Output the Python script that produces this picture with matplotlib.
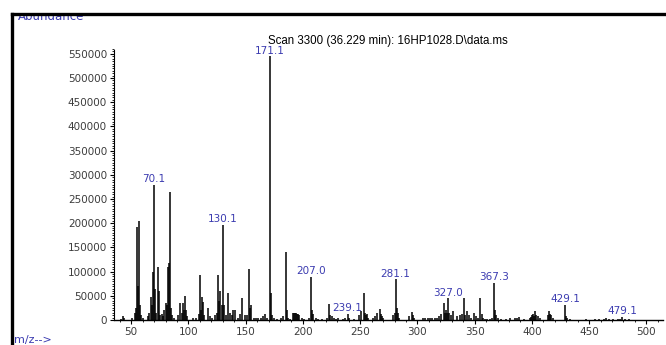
import matplotlib.pyplot as plt
from matplotlib.lines import Line2D
from matplotlib.ticker import MultipleLocator

# m/z and abundance
mz = [41, 43, 44, 51, 53, 54, 55, 56, 57, 58, 59, 60, 65, 66, 67, 68, 69, 70, 71, 72,
      73, 74, 75, 77, 78, 79, 80, 81, 82, 83, 84, 85, 86, 87, 91, 93, 94, 95, 96, 97,
      98, 99, 104, 107, 109, 110, 111, 112, 113, 114, 117, 119, 121, 123, 125, 126, 127, 128, 129, 130,
      131, 133, 135, 136, 138, 139, 141, 143, 145, 147, 149, 151, 153, 154, 155, 157, 159, 161, 163, 165,
      167, 169, 171, 172, 173, 175, 177, 181, 183, 185, 186, 187, 189, 191, 192, 193, 194, 195, 196, 197,
      199, 201, 205, 207, 208, 209, 211, 213, 217, 221, 223, 224, 225, 227, 229, 231, 235, 237, 239, 240,
      245, 249, 251, 253, 254, 255, 256, 257, 261, 263, 265, 267, 268, 269, 270, 279, 280, 281, 282, 283,
      284, 293, 295, 296, 297, 305, 307, 309, 311, 313, 315, 317, 319, 321, 323, 324, 325, 326, 327, 328,
      329, 331, 335, 337, 339, 341, 342, 343, 345, 347, 349, 351, 353, 355, 356, 357, 359, 361, 363, 365,
      367, 368, 369, 370, 373, 377, 381, 385, 387, 389, 393, 398, 399, 400, 401, 402, 403, 404, 405, 407,
      414, 415, 416, 417, 418, 429, 430, 431, 433, 447, 455, 459, 463, 465, 467, 471, 475, 477, 479, 481,
      485]
abundance = [3000, 8000, 4000, 5000, 15000, 25000, 193000, 70000, 205000, 30000, 10000, 5000, 8000, 15000, 48000, 30000, 100000, 279000, 65000, 15000,
             110000, 60000, 10000, 12000, 8000, 20000, 35000, 30000, 110000, 117000, 265000, 25000, 10000, 5000, 10000, 35000, 15000, 35000, 20000, 50000,
             20000, 8000, 5000, 5000, 12000, 93000, 20000, 48000, 38000, 10000, 25000, 8000, 5000, 10000, 15000, 93000, 40000, 60000, 30000, 196000,
             30000, 10000, 55000, 15000, 10000, 20000, 20000, 5000, 12000, 45000, 10000, 10000, 105000, 25000, 30000, 5000, 5000, 5000, 5000, 8000,
             12000, 5000, 545000, 55000, 10000, 5000, 3000, 5000, 8000, 141000, 20000, 5000, 3000, 15000, 15000, 14000, 15000, 12000, 13000, 10000,
             5000, 3000, 5000, 89000, 20000, 12000, 5000, 3000, 3000, 5000, 33000, 10000, 8000, 5000, 3000, 5000, 3000, 5000, 12000, 5000,
             3000, 10000, 18000, 55000, 15000, 10000, 12000, 5000, 5000, 8000, 15000, 22000, 12000, 8000, 5000, 10000, 15000, 84000, 25000, 15000,
             5000, 8000, 16000, 10000, 5000, 4000, 4000, 4000, 4000, 4000, 5000, 5000, 8000, 12000, 36000, 15000, 20000, 15000, 45000, 15000,
             10000, 18000, 8000, 10000, 12000, 45000, 10000, 18000, 10000, 5000, 15000, 8000, 5000, 46000, 12000, 5000, 3000, 3000, 3000, 5000,
             77000, 20000, 10000, 5000, 3000, 3000, 5000, 5000, 5000, 6000, 3000, 5000, 6000, 10000, 12000, 8000, 18000, 10000, 8000, 5000,
             10000, 18000, 12000, 10000, 5000, 32000, 8000, 5000, 3000, 3000, 2000, 3000, 3000, 4000, 3000, 3000, 3000, 3000, 6000, 3000,
             2000]

label_mz = [70, 130, 171, 207, 239, 281, 327, 367, 429, 479]
label_text = ['70.1', '130.1', '171.1', '207.0', '239.1', '281.1', '327.0', '367.3', '429.1', '479.1']

blue = '#3b3bb0'
tick_grey = '#3c3c3c'

fig = plt.figure(figsize=(6.66, 3.45), dpi=100)
ax = fig.add_axes([114 / 666, 25 / 345, 549 / 666, 271 / 345])

ax.vlines(mz, 0, abundance, colors='black', lw=1.1)

lookup = dict(zip(mz, abundance))
for m, t in zip(label_mz, label_text):
    ax.annotate(t, (m, lookup[m]), xytext=(0, 0.5), textcoords='offset points',
                ha='center', va='bottom', color=blue, fontsize=7.5)

ax.set_xlim(35, 514.5)
ax.set_ylim(0, 560000)
ax.xaxis.set_minor_locator(MultipleLocator(10))
ax.yaxis.set_minor_locator(MultipleLocator(5000))
ax.set_xticks(range(50, 501, 50))
ax.set_yticks(range(0, 550001, 50000))

ax.spines['top'].set_visible(False)
ax.spines['right'].set_visible(False)
ax.spines['left'].set_linestyle((0, (1, 1)))
ax.spines['left'].set_linewidth(0.8)
ax.spines['bottom'].set_linewidth(1.0)
ax.tick_params(axis='both', which='major', direction='out', length=3, width=0.8,
               labelsize=7.5, labelcolor=tick_grey, pad=2)
ax.tick_params(axis='both', which='minor', direction='out', length=1.5, width=0.6)

fig.text(388 / 666, 1 - 41 / 345, 'Scan 3300 (36.229 min): 16HP1028.D\\data.ms',
         ha='center', va='center', fontsize=8.3, family=['Liberation Sans Narrow', 'Liberation Sans'])
# partly hidden under the frame, as in the screenshot
fig.text(18 / 666, 1 - 16 / 345, 'Abundance', ha='left', va='center', color=blue, fontsize=8.5)
fig.text(14 / 666, 1 - 340 / 345, 'm/z-->', ha='left', va='center', color=blue, fontsize=8)

# thick frame around the plot (only top and left are inside the crop)
fig.add_artist(Line2D([12 / 666, 1], [1 - 14 / 345, 1 - 14 / 345], color='black', lw=2.4, zorder=10))
fig.add_artist(Line2D([12 / 666, 12 / 666], [0, 1 - 14 / 345], color='black', lw=2.4, zorder=10))
fig.patches.append(plt.Rectangle((0, 1 - 13 / 345), 1, 13 / 345, transform=fig.transFigure,
                                 facecolor='white', edgecolor='none', zorder=9))

fig.savefig('out.png', dpi=100)
